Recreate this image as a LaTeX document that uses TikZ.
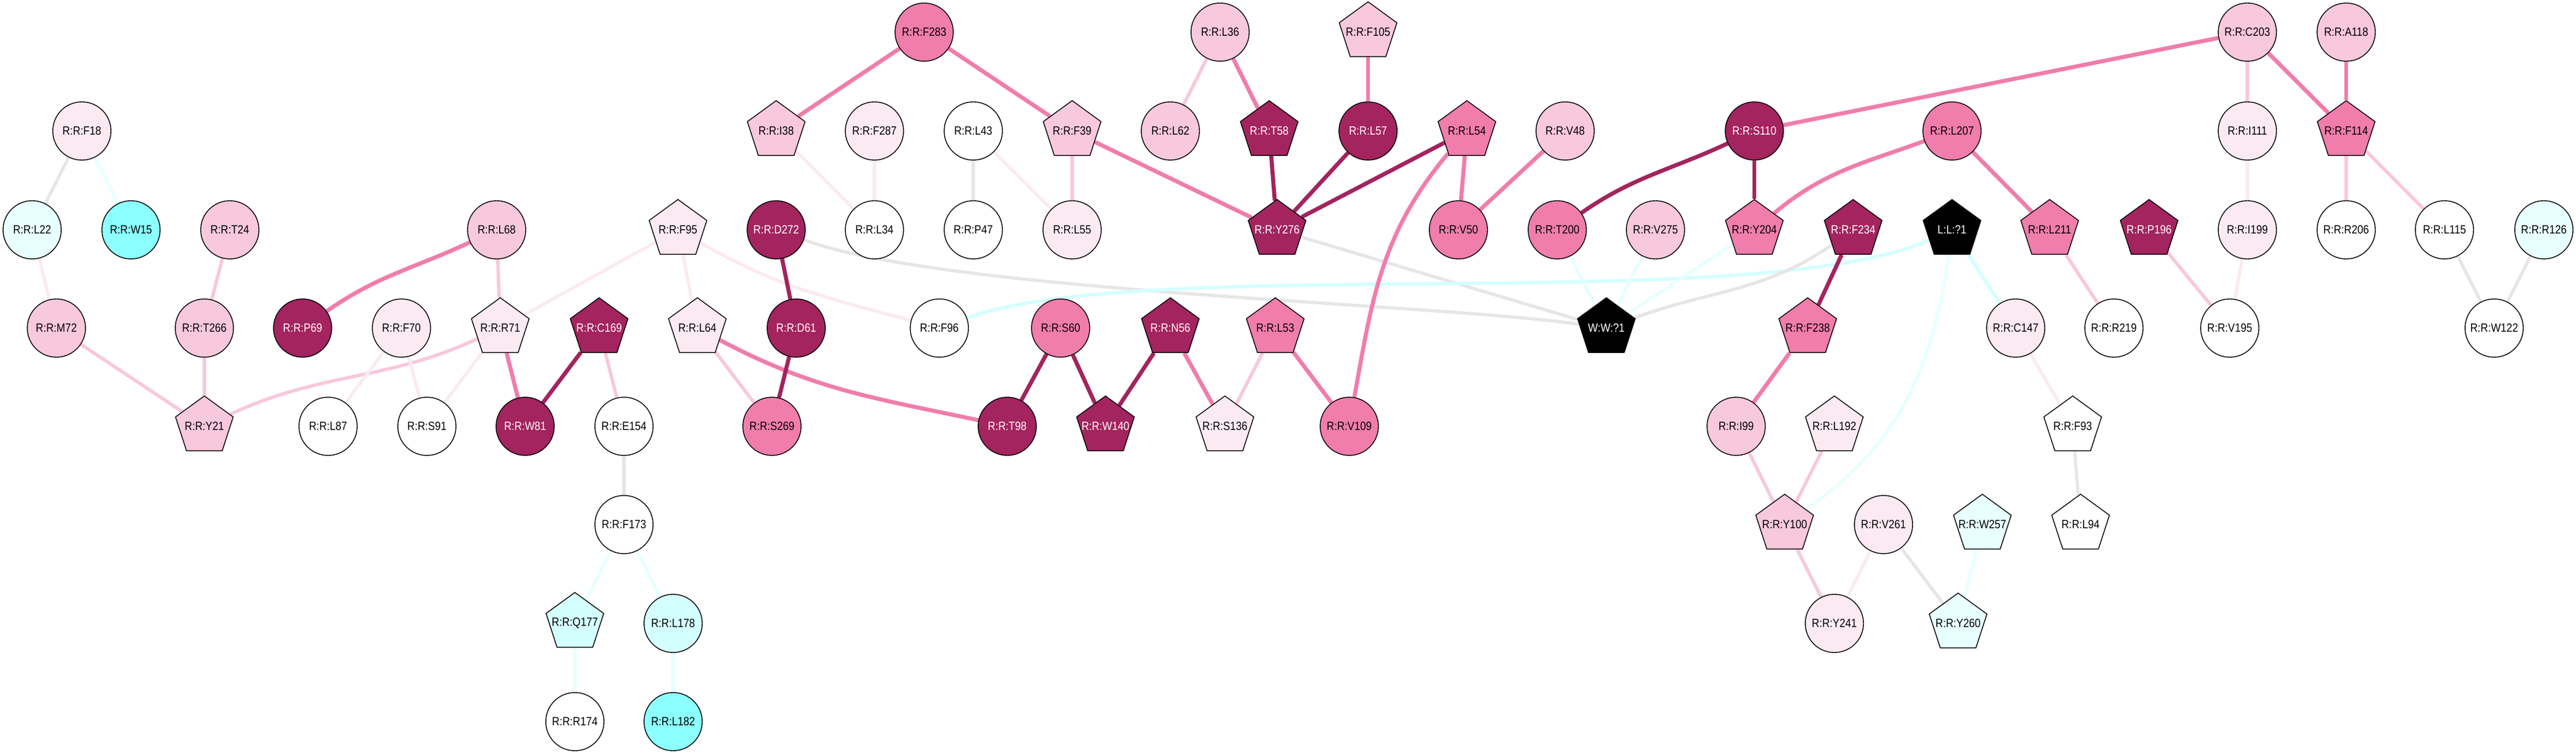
\documentclass[tikz,border=0pt]{standalone}
\usepackage{fontspec}
\setmainfont{Liberation Sans}[FakeStretch=0.87]
\usetikzlibrary{shapes.geometric,backgrounds}
\definecolor{dkmag}{HTML}{A3245E}
\definecolor{pinkm}{HTML}{F07DAB}
\definecolor{pinkl}{HTML}{F8C8DC}
\definecolor{pinkvl}{HTML}{FBEAF2}
\definecolor{cyanf}{HTML}{8CFFFF}
\definecolor{cyanl}{HTML}{D4FFFF}
\definecolor{cyanvl}{HTML}{E8FFFF}
\definecolor{greyl}{HTML}{E6E6E6}
\newcommand{\lbl}[1]{\makebox[0pt]{#1}}

\begin{document}
\begin{tikzpicture}[
	res/.style={circle, draw, line width=0.4pt, minimum size=0.96cm, inner sep=0pt, font=\fontsize{5.6}{6}\selectfont},
	pent/.style={regular polygon, regular polygon sides=5, draw, line width=0.4pt, minimum size=1.0cm, inner sep=0pt, font=\fontsize{5.6}{6}\selectfont},
	dm/.style={fill=dkmag, text=white},
	bk/.style={fill=black, text=white},
	edark/.style={dkmag, line width=1.9pt},
	epink/.style={pinkm, line width=1.9pt},
	elight/.style={pinkl, line width=1.6pt},
	epale/.style={pinkvl, line width=1.5pt},
	egrey/.style={greyl, line width=1.5pt},
	ecyan/.style={cyanl, line width=1.6pt},
	epcyan/.style={cyanvl, line width=1.5pt}]
	\useasboundingbox (0,0) rectangle (42.48,-12.45);

	\node [res, fill=pinkvl] (F18) at (1.35,-2.16) {R:R:F18};
	\node [res, fill=cyanvl] (L22) at (0.53,-3.79) {R:R:L22};
	\node [res, fill=cyanf] (W15) at (2.16,-3.79) {R:R:W15};
	\node [res, fill=pinkl] (T24) at (3.79,-3.79) {R:R:T24};
	\node [res, fill=pinkl] (L68) at (8.19,-3.79) {R:R:L68};
	\node [res, fill=pinkl] (M72) at (0.93,-5.41) {R:R:M72};
	\node [res, fill=pinkl] (T266) at (3.37,-5.41) {R:R:T266};
	\node [res, dm] (P69) at (4.99,-5.41) {R:R:P69};
	\node [res, fill=pinkvl] (F70) at (6.62,-5.41) {R:R:F70};
	\node [pent, fill=pinkvl] (R71) at (8.25,-5.41) {\lbl{R:R:R71}};
	\node [pent, dm] (C169) at (9.88,-5.41) {\lbl{R:R:C169}};
	\node [pent, fill=pinkl] (Y21) at (3.37,-7.03) {\lbl{R:R:Y21}};
	\node [res, fill=white] (L87) at (5.41,-7.03) {R:R:L87};
	\node [res, fill=white] (S91) at (7.04,-7.03) {R:R:S91};
	\node [res, dm] (W81) at (8.66,-7.03) {R:R:W81};
	\node [res, fill=white] (E154) at (10.29,-7.03) {R:R:E154};
	\node [res, fill=white] (F173) at (10.29,-8.65) {R:R:F173};
	\node [pent, fill=cyanl] (Q177) at (9.48,-10.27) {\lbl{R:R:Q177}};
	\node [res, fill=cyanl] (L178) at (11.10,-10.28) {R:R:L178};
	\node [res, fill=white] (R174) at (9.48,-11.90) {R:R:R174};
	\node [res, fill=cyanf] (L182) at (11.10,-11.90) {R:R:L182};

	\node [res, fill=pinkm] (F283) at (15.24,-0.53) {R:R:F283};
	\node [res, fill=pinkl] (L36) at (20.12,-0.53) {R:R:L36};
	\node [pent, fill=pinkl] (F105) at (22.56,-0.53) {\lbl{R:R:F105}};
	\node [res, fill=pinkl] (C203) at (37.06,-0.53) {R:R:C203};
	\node [res, fill=pinkl] (A118) at (38.69,-0.53) {R:R:A118};
	\node [pent, fill=pinkl] (I38) at (12.80,-2.16) {\lbl{R:R:I38}};
	\node [res, fill=pinkvl] (F287) at (14.42,-2.16) {R:R:F287};
	\node [res, fill=white] (L43) at (16.05,-2.16) {R:R:L43};
	\node [pent, fill=pinkl] (F39) at (17.68,-2.16) {\lbl{R:R:F39}};
	\node [res, fill=pinkl] (L62) at (19.30,-2.16) {R:R:L62};
	\node [pent, dm] (T58) at (20.93,-2.16) {\lbl{R:R:T58}};
	\node [res, dm] (L57) at (22.56,-2.16) {R:R:L57};
	\node [pent, fill=pinkm] (L54) at (24.19,-2.16) {\lbl{R:R:L54}};
	\node [res, fill=pinkl] (V48) at (25.81,-2.16) {R:R:V48};
	\node [res, dm] (S110) at (28.93,-2.16) {R:R:S110};
	\node [res, fill=pinkm] (L207) at (32.19,-2.16) {R:R:L207};
	\node [res, fill=pinkvl] (I111) at (37.06,-2.16) {R:R:I111};
	\node [pent, fill=pinkm] (F114) at (38.69,-2.16) {\lbl{R:R:F114}};

	\node [pent, fill=pinkvl] (F95) at (11.18,-3.79) {\lbl{R:R:F95}};
	\node [res, dm] (D272) at (12.80,-3.79) {R:R:D272};
	\node [res, fill=white] (L34) at (14.42,-3.79) {R:R:L34};
	\node [res, fill=white] (P47) at (16.05,-3.79) {R:R:P47};
	\node [res, fill=pinkvl] (L55) at (17.68,-3.79) {R:R:L55};
	\node [pent, dm] (Y276) at (21.06,-3.79) {\lbl{R:R:Y276}};
	\node [res, fill=pinkm] (V50) at (24.05,-3.79) {R:R:V50};
	\node [res, fill=pinkm] (T200) at (25.68,-3.79) {R:R:T200};
	\node [res, fill=pinkl] (V275) at (27.30,-3.79) {R:R:V275};
	\node [pent, fill=pinkm] (Y204) at (28.93,-3.79) {\lbl{R:R:Y204}};
	\node [pent, dm] (F234) at (30.56,-3.79) {\lbl{R:R:F234}};
	\node [pent, bk] (L1) at (32.19,-3.79) {\lbl{L:L:?1}};
	\node [pent, fill=pinkm] (L211) at (33.80,-3.79) {\lbl{R:R:L211}};
	\node [pent, dm] (P196) at (35.44,-3.79) {\lbl{R:R:P196}};
	\node [res, fill=pinkvl] (I199) at (37.06,-3.79) {R:R:I199};
	\node [res, fill=white] (R206) at (38.69,-3.79) {R:R:R206};
	\node [res, fill=white] (L115) at (40.31,-3.79) {R:R:L115};
	\node [res, fill=cyanvl] (R126) at (41.95,-3.79) {R:R:R126};

	\node [pent, fill=pinkvl] (L64) at (11.50,-5.41) {\lbl{R:R:L64}};
	\node [res, dm] (D61) at (13.13,-5.41) {R:R:D61};
	\node [res, fill=white] (F96) at (15.49,-5.41) {R:R:F96};
	\node [res, fill=pinkm] (S60) at (17.49,-5.41) {R:R:S60};
	\node [pent, dm] (N56) at (19.30,-5.41) {\lbl{R:R:N56}};
	\node [pent, fill=pinkm] (L53) at (21.03,-5.41) {\lbl{R:R:L53}};
	\node [pent, bk] (W1) at (26.49,-5.41) {\lbl{W:W:?1}};
	\node [pent, fill=pinkm] (F238) at (29.81,-5.41) {\lbl{R:R:F238}};
	\node [res, fill=pinkvl] (C147) at (33.24,-5.41) {R:R:C147};
	\node [res, fill=white] (R219) at (34.86,-5.41) {R:R:R219};
	\node [res, fill=white] (V195) at (36.77,-5.41) {R:R:V195};
	\node [res, fill=white] (W122) at (41.13,-5.41) {R:R:W122};

	\node [res, fill=pinkm] (S269) at (12.73,-7.03) {R:R:S269};
	\node [res, dm] (T98) at (16.61,-7.03) {R:R:T98};
	\node [pent, dm] (W140) at (18.23,-7.03) {\lbl{R:R:W140}};
	\node [pent, fill=pinkvl] (S136) at (20.20,-7.03) {\lbl{R:R:S136}};
	\node [res, fill=pinkm] (V109) at (22.25,-7.03) {R:R:V109};
	\node [res, fill=pinkl] (I99) at (28.63,-7.03) {R:R:I99};
	\node [pent, fill=pinkvl] (L192) at (30.25,-7.03) {\lbl{R:R:L192}};
	\node [pent, fill=white] (F93) at (34.18,-7.03) {\lbl{R:R:F93}};
	\node [pent, fill=pinkl] (Y100) at (29.43,-8.65) {\lbl{R:R:Y100}};
	\node [res, fill=pinkvl] (V261) at (31.06,-8.65) {R:R:V261};
	\node [pent, fill=cyanvl] (W257) at (32.69,-8.65) {\lbl{R:R:W257}};
	\node [pent, fill=white] (L94) at (34.31,-8.65) {\lbl{R:R:L94}};
	\node [res, fill=pinkvl] (Y241) at (30.25,-10.28) {R:R:Y241};
	\node [pent, fill=cyanvl] (Y260) at (32.29,-10.28) {\lbl{R:R:Y260}};

	\begin{scope}[on background layer]
	\draw [egrey] (F18) -- (L22);
	\draw [epcyan] (F18) -- (W15);
	\draw [epale] (L22) -- (M72);
	\draw [elight] (T24) -- (T266);
	\draw [elight] (M72) -- (Y21);
	\draw [elight] (T266) -- (Y21);
	\draw [epink] (L68) to [out=205, in=35] (P69);
	\draw [elight] (L68) -- (R71);
	\draw [epale] (F95) -- (R71);
	\draw [elight] (R71) to [out=205, in=25] (Y21);
	\draw [epale] (F70) -- (L87);
	\draw [epale] (F70) -- (S91);
	\draw [epale] (R71) -- (S91);
	\draw [epink] (R71) -- (W81);
	\draw [edark] (C169) -- (W81);
	\draw [elight] (C169) -- (E154);
	\draw [egrey] (E154) -- (F173);
	\draw [epcyan] (F173) -- (Q177);
	\draw [epcyan] (F173) -- (L178);
	\draw [epcyan] (Q177) -- (R174);
	\draw [epcyan] (L178) -- (L182);

	\draw [epink] (F283) -- (I38);
	\draw [epink] (F283) -- (F39);
	\draw [epale] (I38) -- (L34);
	\draw [epale] (F287) -- (L34);
	\draw [egrey] (L43) -- (P47);
	\draw [epale] (L43) -- (L55);
	\draw [elight] (F39) -- (L55);
	\draw [epink] (F39) -- (Y276);
	\draw [elight] (L36) -- (L62);
	\draw [epink] (L36) -- (T58);
	\draw [edark] (T58) -- (Y276);
	\draw [edark] (L57) -- (Y276);
	\draw [edark] (L54) -- (Y276);
	\draw [egrey] (Y276) -- (W1);
	\draw [epale] (F95) -- (L64);
	\draw [epale] (F95) to [out=-30, in=165] (F96);
	\draw [edark] (D272) -- (D61);
	\draw [egrey] (D272) to [out=-20, in=172, looseness=0.5] (W1);
	\draw [ecyan] (F96) to [out=20, in=204, looseness=0.5] (L1);
	\draw [elight] (L64) -- (S269);
	\draw [epink] (L64) to [out=-28, in=168] (T98);
	\draw [edark] (D61) -- (S269);
	\draw [edark] (S60) -- (T98);
	\draw [edark] (S60) -- (W140);
	\draw [edark] (N56) -- (W140);
	\draw [epink] (N56) -- (S136);
	\draw [elight] (L53) -- (S136);
	\draw [epink] (L53) -- (V109);

	\draw [epink] (F105) -- (L57);
	\draw [epink] (L54) -- (V50);
	\draw [epink] (L54) to [out=230, in=80] (V109);
	\draw [epink] (V48) -- (V50);
	\draw [edark] (S110) to [out=205, in=35] (T200);
	\draw [edark] (S110) -- (Y204);
	\draw [epink] (S110) -- (C203);
	\draw [epink] (L207) to [out=200, in=40] (Y204);
	\draw [epink] (L207) -- (L211);
	\draw [epcyan] (T200) -- (W1);
	\draw [epcyan] (V275) -- (W1);
	\draw [epcyan] (Y204) -- (W1);
	\draw [egrey] (F234) to [out=215, in=20] (W1);
	\draw [edark] (F234) -- (F238);
	\draw [epcyan] (L1) to [out=262, in=35] (Y100);
	\draw [ecyan] (L1) -- (C147);
	\draw [epink] (F238) -- (I99);
	\draw [elight] (I99) -- (Y100);
	\draw [elight] (L192) -- (Y100);
	\draw [elight] (Y100) -- (Y241);
	\draw [epale] (V261) -- (Y241);
	\draw [egrey] (V261) -- (Y260);
	\draw [epcyan] (W257) -- (Y260);

	\draw [elight] (C203) -- (I111);
	\draw [epink] (C203) -- (F114);
	\draw [epink] (A118) -- (F114);
	\draw [epale] (I111) -- (I199);
	\draw [elight] (F114) -- (R206);
	\draw [elight] (F114) -- (L115);
	\draw [elight] (L211) -- (R219);
	\draw [elight] (P196) -- (V195);
	\draw [epale] (I199) -- (V195);
	\draw [egrey] (L115) -- (W122);
	\draw [egrey] (R126) -- (W122);
	\draw [epale] (C147) -- (F93);
	\draw [egrey] (F93) -- (L94);
	\end{scope}

\end{tikzpicture}
\end{document}
